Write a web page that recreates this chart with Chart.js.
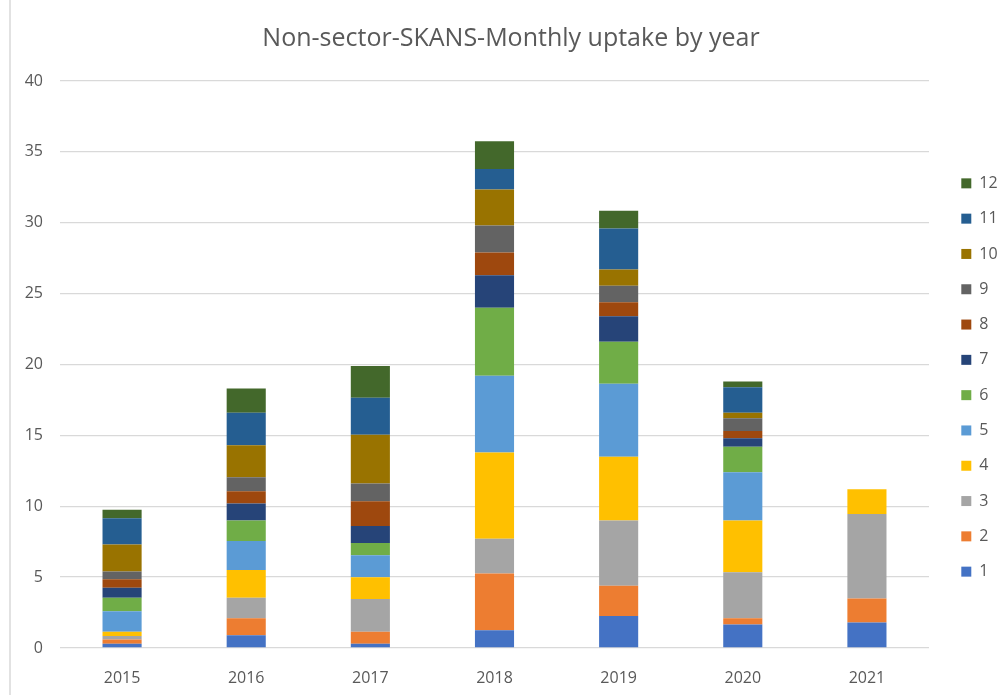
<!DOCTYPE html>
<html>
<head>
<meta charset="utf-8">
<script src="https://cdn.jsdelivr.net/npm/chart.js@4/dist/chart.umd.min.js"></script>
<style>
  html, body { margin: 0; padding: 0; background: #ffffff; }
  #wrap { width: 1004px; height: 695px; position: relative; }
</style>
</head>
<body>
<div id="wrap"><canvas id="c" width="1004" height="695"></canvas></div>
<script>
const years = ['2015', '2016', '2017', '2018', '2019', '2020', '2021'];
const monthNames = ['1', '2', '3', '4', '5', '6', '7', '8', '9', '10', '11', '12'];
const month1  = [0.3, 0.9, 0.3, 1.25, 2.25, 1.65, 1.8];
const month2  = [0.3, 1.2, 0.85, 4.0, 2.15, 0.45, 1.7];
const month3  = [0.25, 1.45, 2.3, 2.45, 4.6, 3.25, 5.95];
const month4  = [0.3, 1.95, 1.55, 6.1, 4.5, 3.65, 1.75];
const month5  = [1.45, 2.05, 1.55, 5.4, 5.15, 3.4, null];
const month6  = [0.95, 1.45, 0.85, 4.8, 2.95, 1.8, null];
const month7  = [0.7, 1.2, 1.2, 2.3, 1.8, 0.6, null];
const month8  = [0.6, 0.85, 1.75, 1.6, 1.0, 0.5, null];
const month9  = [0.55, 1.0, 1.25, 1.9, 1.15, 0.9, null];
const month10 = [1.9, 2.25, 3.45, 2.55, 1.15, 0.4, null];
const month11 = [1.85, 2.3, 2.6, 1.45, 2.9, 1.8, null];
const month12 = [0.6, 1.7, 2.25, 1.95, 1.25, 0.4, null];
const yTicks = [0, 5, 10, 15, 20, 25, 30, 35, 40];

const seriesValues = [month1, month2, month3, month4, month5, month6, month7, month8, month9, month10, month11, month12];
const seriesColors = ['#4472C4', '#ED7D31', '#A5A5A5', '#FFC000', '#5B9BD5', '#70AD47',
                      '#264478', '#9E480E', '#636363', '#997300', '#255E91', '#43682B'];

Chart.defaults.font.family = "'Open Sans', 'DejaVu Sans', sans-serif";
Chart.defaults.color = '#595959';

const frame = {
  id: 'frame',
  afterInit(chart) {
    const lg = chart.legend;
    if (lg && !lg._patched) {
      const origFit = lg.fit.bind(lg);
      lg.fit = function () { origFit(); if (!this.isHorizontal()) this.width = 75; };
      lg._patched = true;
    }
  },
  afterLayout(chart) {
    const lg = chart.legend;
    if (lg) { lg.left += 13; lg.right += 13; lg.top += 30; lg.bottom += 30; }
  },
  beforeDraw(chart) {
    const ctx = chart.ctx;
    ctx.save();
    ctx.fillStyle = '#ffffff';
    ctx.fillRect(0, 0, chart.width, chart.height);
    ctx.strokeStyle = '#d9d9d9';
    ctx.lineWidth = 1.5;
    ctx.beginPath();
    ctx.moveTo(10, 0);
    ctx.lineTo(10, chart.height);
    ctx.stroke();
    ctx.restore();
  }
};

new Chart(document.getElementById('c'), {
  type: 'bar',
  data: {
    labels: years,
    datasets: seriesValues.map((vals, i) => ({
      label: monthNames[i],
      data: vals,
      backgroundColor: seriesColors[i],
      borderWidth: 0,
      categoryPercentage: 1,
      barPercentage: 0.315
    }))
  },
  options: {
    responsive: false,
    animation: false,
    layout: { padding: { left: 18, right: 0, top: 0, bottom: 0 } },
    plugins: {
      title: {
        display: true,
        text: 'Non-sector-SKANS-Monthly uptake by year',
        color: '#595959',
        font: { size: 25, weight: 'normal', lineHeight: 1.2 },
        padding: { top: 24, bottom: 27 }
      },
      legend: {
        position: 'right',
        reverse: true,
        labels: {
          boxWidth: 10,
          boxHeight: 10,
          padding: 19.3,
          color: '#595959',
          font: { size: 16 }
        }
      },
      tooltip: { enabled: false }
    },
    scales: {
      x: {
        stacked: true,
        grid: { display: false },
        border: { display: false },
        ticks: { padding: 13, font: { size: 16 }, color: '#595959' },
        afterFit(scale) { scale.height = 47; }
      },
      y: {
        stacked: true,
        min: 0,
        max: 40,
        afterBuildTicks(scale) { scale.ticks = yTicks.map(v => ({ value: v })); },
        grid: { color: '#d9d9d9', lineWidth: 1.3, drawTicks: false },
        border: { display: false },
        ticks: { padding: 17, font: { size: 16 }, color: '#595959' },
        afterFit(scale) { scale.width = 42; }
      }
    }
  },
  plugins: [frame]
});
</script>
</body>
</html>
